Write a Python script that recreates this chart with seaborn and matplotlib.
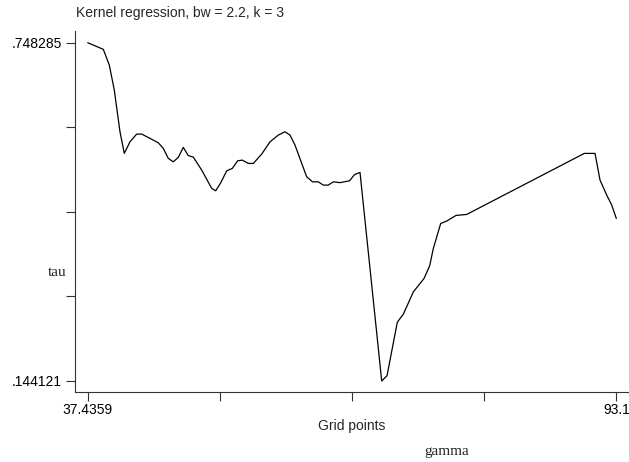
import numpy as np
import pandas as pd
import matplotlib
matplotlib.use("Agg")
import matplotlib.pyplot as plt
import seaborn as sns

# ── Data ───────────────────────────────────────────────────
grid = [37.436, 39.079, 39.711, 40.237, 40.837, 41.290, 41.890, 42.596, 43.123,
        43.997, 44.871, 45.397, 45.924, 46.450, 46.977, 47.503, 48.030, 48.556,
        49.441, 50.494, 50.915, 51.442, 52.074, 52.663, 53.232, 53.717, 54.348,
        54.875, 55.760, 56.634, 57.508, 58.213, 58.740, 59.266, 59.972, 60.498,
        61.109, 61.720, 62.246, 62.773, 63.300, 64.005, 65.006, 65.532, 66.111,
        68.396, 68.954, 70.039, 70.671, 71.724, 72.851, 73.451, 73.830, 74.610,
        75.220, 76.221, 77.347, 89.732, 90.859, 91.385, 92.091, 92.617, 93.1]
tau = [0.748285, 0.7365, 0.7084, 0.6637, 0.5892, 0.5506, 0.5713, 0.5851, 0.5851,
       0.5774, 0.5696, 0.5595, 0.5417, 0.5356, 0.5435, 0.5613, 0.5467, 0.5440,
       0.5208, 0.4881, 0.4838, 0.4981, 0.5195, 0.5238, 0.5374, 0.5386, 0.5327,
       0.5327, 0.5494, 0.5713, 0.5833, 0.5892, 0.5833, 0.5654, 0.5327, 0.5088,
       0.4998, 0.4998, 0.4940, 0.4940, 0.4998, 0.4984, 0.5016, 0.5127, 0.5166,
       0.144121, 0.1535, 0.2491, 0.2634, 0.3032, 0.3272, 0.3501, 0.3808, 0.4255,
       0.4296, 0.4398, 0.4416, 0.5506, 0.5506, 0.5029, 0.4761, 0.4582, 0.4344]

x_min, x_max = 37.4359, 93.1
y_min, y_max = 0.144121, 0.748285

df = pd.DataFrame({"grid": grid, "tau": tau})

# ── Style ──────────────────────────────────────────────────
sns.set_style("white")
plt.rcParams["font.family"] = ["Liberation Sans", "DejaVu Sans"]

fig = plt.figure(figsize=(6.29, 4.62), dpi=100)
ax = fig.add_axes([0.1197, 0.1515, 0.8787, 0.7814])

sns.lineplot(data=df, x="grid", y="tau", ax=ax, color="black",
             linewidth=0.9, sort=False)

ax.set_xlim(36.13, 94.33)
ax.set_ylim(0.12446, 0.76920)

xt = np.linspace(x_min, x_max, 5)
yt = np.linspace(y_min, y_max, 5)
ax.set_xticks(xt)
ax.set_xticklabels(["37.4359", "", "", "", "93.1"])
ax.set_yticks(yt)
ax.set_yticklabels([".144121", "", "", "", ".748285"])

ax.tick_params(axis="both", direction="out", length=6.5, width=0.8,
               color="#333333", labelsize=10, labelcolor="black",
               bottom=True, left=True)
ax.tick_params(axis="x", pad=1.5)
ax.tick_params(axis="y", pad=3)

for side in ["top", "right"]:
    ax.spines[side].set_visible(False)
for side in ["left", "bottom"]:
    ax.spines[side].set_color("#333333")
    ax.spines[side].set_linewidth(0.8)

ax.set_xlabel("Grid points", fontsize=10, labelpad=1)
ax.set_ylabel("")

fig.text(76 / 629, 1 - 13 / 462, "Kernel regression, bw = 2.2, k = 3",
         ha="left", va="center", fontsize=10)
fig.text(57 / 629, 1 - 273 / 462, "tau", ha="center", va="center",
         fontsize=11, family=["Liberation Serif", "DejaVu Serif"])
fig.text(447 / 629, 1 - 452 / 462, "gamma", ha="center", va="center",
         fontsize=11, family=["Liberation Serif", "DejaVu Serif"])

fig.savefig("out.png", dpi=100, facecolor="white")
